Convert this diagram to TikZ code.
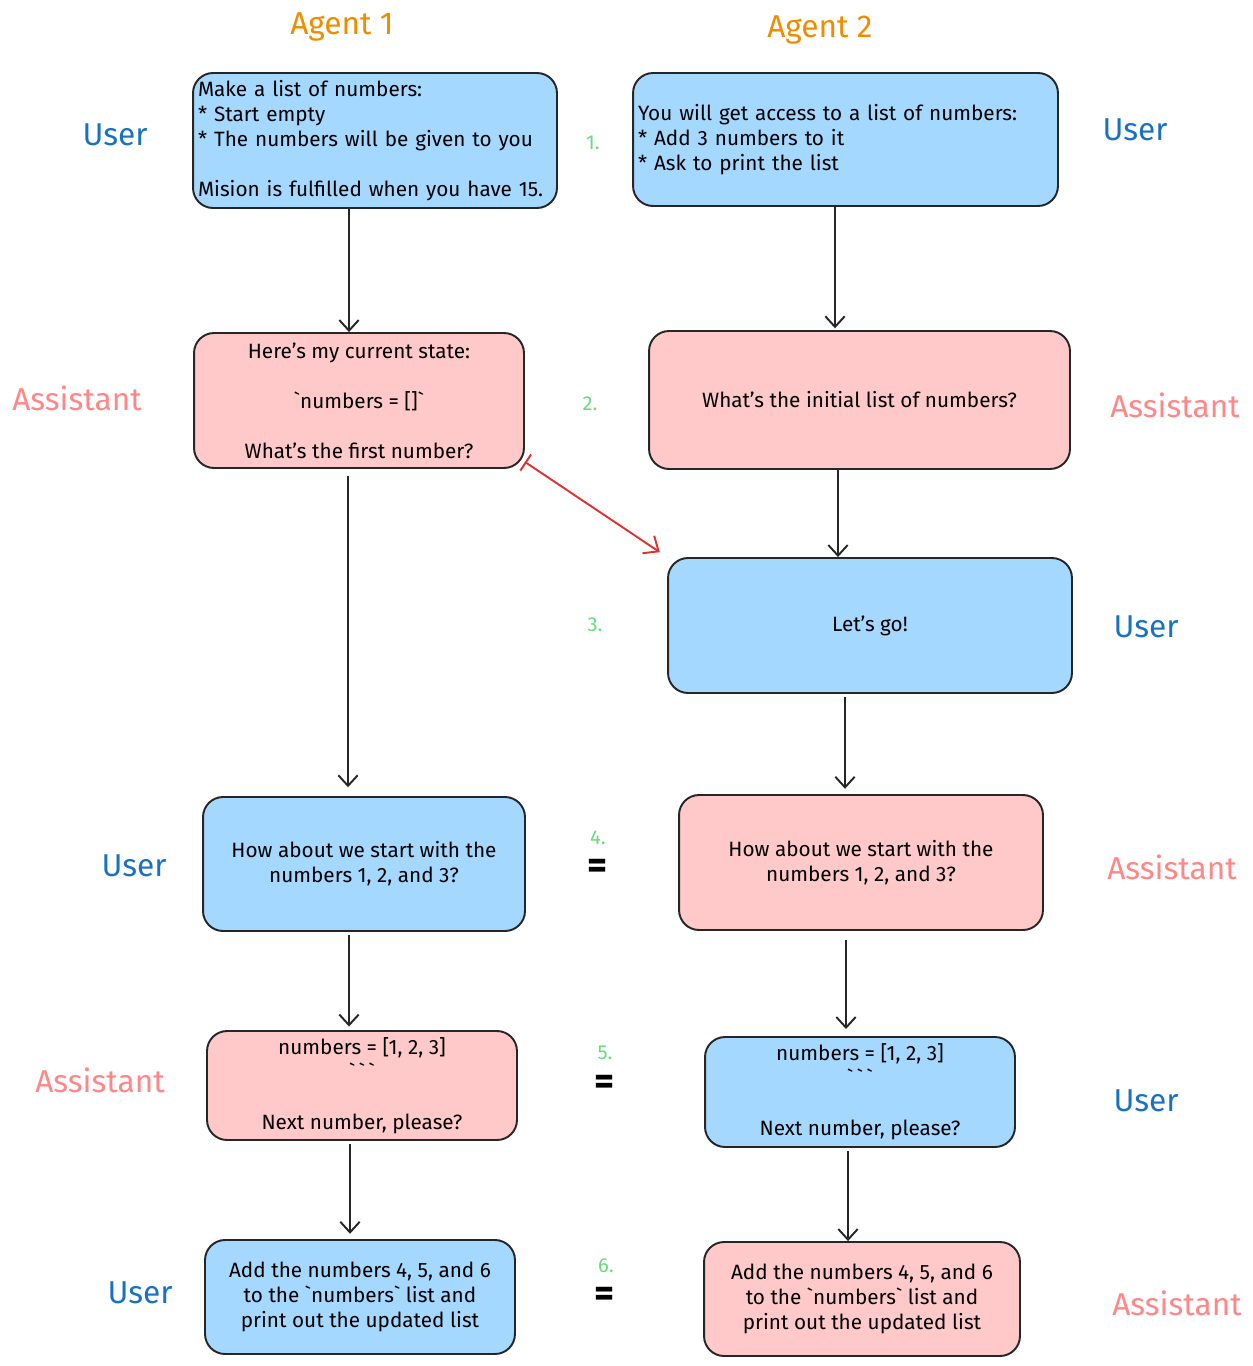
\documentclass[tikz,border=0pt]{standalone}
\usepackage{fontspec}
\setmainfont{Fira Sans}
\usetikzlibrary{arrows.meta}
\definecolor{boxblue}{HTML}{A5D8FF}
\definecolor{boxpink}{HTML}{FFC9C9}
\definecolor{userblue}{HTML}{1971C2}
\definecolor{asstpink}{HTML}{FF8787}
\definecolor{agentorange}{HTML}{F08C00}
\definecolor{stepgreen}{HTML}{69DB7C}
\definecolor{linkred}{HTML}{E03131}
\newcommand{\bt}{\textasciigrave}
\tikzset{
  msg/.style={draw=black!85, line width=1.1pt, rounded corners=0.4cm,
    font=\fontsize{11.8}{14.2}\selectfont, align=center, inner sep=0pt},
  usermsg/.style={msg, fill=boxblue},
  asstmsg/.style={msg, fill=boxpink},
  role/.style={font=\fontsize{18}{21}\selectfont},
  userlabel/.style={role, text=userblue},
  asstlabel/.style={role, text=asstpink},
  agentlabel/.style={role, text=agentorange},
  stepno/.style={font=\fontsize{11.5}{12}\selectfont, text=stepgreen, inner sep=0pt},
  eqsign/.style={font=\fontsize{22}{22}\bfseries\selectfont, inner sep=0pt},
  flow/.style={draw=black!85, line width=1.1pt, -{Straight Barb[length=6pt,width=11pt]}},
  cross/.style={draw=linkred, line width=1.1pt, {Bar[width=11pt]}-{Straight Barb[length=7pt,width=12pt]}}
}
\begin{document}
\begin{tikzpicture}[x=0.02cm, y=-0.02cm]
\useasboundingbox (0,0) rectangle (1253,1366);
% Headers
\node[agentlabel] (agent1) at (342,27) {Agent 1};
\node[agentlabel] (agent2) at (820,30) {Agent 2};
% Agent 1 column
\node[usermsg, minimum width=7.28cm, minimum height=2.7cm, text width=7.08cm, align=left] (a1) at (375,140.5)
  {Make a list of numbers:\\{*} Start empty\\{*} The numbers will be given to you\\[14.2pt]Mision is fulfilled when you have 15.};
\node[asstmsg, minimum width=6.6cm, minimum height=2.7cm] (a2) at (359,400.5)
  {Here's my current state:\\[14.2pt]\bt numbers = []\bt\\[14.2pt]What's the first number?};
\node[usermsg, minimum width=6.44cm, minimum height=2.68cm] (a4) at (364,864)
  {How about we start with the\\numbers 1, 2, and 3?};
\node[asstmsg, minimum width=6.2cm, minimum height=2.18cm] (a5) at (362,1085.5)
  {numbers = [1, 2, 3]\\\bt\,\bt\,\bt\\[14.2pt]Next number, please?};
\node[usermsg, minimum width=6.2cm, minimum height=2.28cm] (a6) at (360,1297)
  {Add the numbers 4, 5, and 6\\to the \bt numbers\bt{} list and\\print out the updated list};
% Agent 2 column
\node[usermsg, minimum width=8.5cm, minimum height=2.66cm, text width=8.3cm, align=left] (b1) at (845.5,139.5)
  {You will get access to a list of numbers:\\{*} Add 3 numbers to it\\{*} Ask to print the list};
\node[asstmsg, minimum width=8.42cm, minimum height=2.76cm] (b2) at (859.5,400)
  {What's the initial list of numbers?};
\node[usermsg, minimum width=8.08cm, minimum height=2.7cm] (b3) at (870,625.5)
  {Let's go!};
\node[asstmsg, minimum width=7.28cm, minimum height=2.7cm] (b4) at (861,862.5)
  {How about we start with the\\numbers 1, 2, and 3?};
\node[usermsg, minimum width=6.2cm, minimum height=2.2cm] (b5) at (860,1092)
  {numbers = [1, 2, 3]\\\bt\,\bt\,\bt\\[14.2pt]Next number, please?};
\node[asstmsg, minimum width=6.32cm, minimum height=2.28cm] (b6) at (862,1299)
  {Add the numbers 4, 5, and 6\\to the \bt numbers\bt{} list and\\print out the updated list};
% Roles
\node[userlabel] (ra1) at (115,135) {User};
\node[asstlabel] (ra2) at (77,398) {Assistant};
\node[userlabel] (ra4) at (134,866) {User};
\node[asstlabel] (ra5) at (100,1080) {Assistant};
\node[userlabel] (ra6) at (140,1293) {User};
\node[userlabel] (rb1) at (1135,130) {User};
\node[asstlabel] (rb2) at (1175,405) {Assistant};
\node[userlabel] (rb3) at (1146,627) {User};
\node[asstlabel] (rb4) at (1172,867) {Assistant};
\node[userlabel] (rb5) at (1146,1101) {User};
\node[asstlabel] (rb6) at (1177,1303) {Assistant};
% Steps
\node[stepno] (s1) at (593,143) {1.};
\node[stepno] (s2) at (590,404) {2.};
\node[stepno] (s3) at (595,625) {3.};
\node[stepno] (s4) at (598,838) {4.};
\node[stepno] (s5) at (605,1053) {5.};
\node[stepno] (s6) at (606,1266) {6.};
\node[eqsign] (e4) at (598,869) {=};
\node[eqsign] (e5) at (605,1085) {=};
\node[eqsign] (e6) at (605,1297) {=};
% Arrows
\draw[flow] (a1.south -| 349,0) -- (a2.north -| 349,0);
\draw[flow, shorten <=4pt, shorten >=5pt] (a2.south -| 348,0) -- (a4.north -| 348,0);
\draw[flow, shorten <=2pt, shorten >=2pt] (a4.south -| 349,0) -- (a5.north -| 349,0);
\draw[flow, shorten <=2pt, shorten >=3pt] (a5.south -| 350,0) -- (a6.north -| 350,0);
\draw[flow, shorten >=1pt] (b1.south -| 835,0) -- (b2.north -| 835,0);
\draw[flow] (b2.south -| 838,0) -- (b3.north -| 838,0);
\draw[flow, shorten <=2pt, shorten >=3pt] (b3.south -| 845,0) -- (b4.north -| 845,0);
\draw[flow, shorten <=5pt, shorten >=4pt] (b4.south -| 846,0) -- (b5.north -| 846,0);
\draw[flow, shorten <=2pt] (b5.south -| 848,0) -- (b6.north -| 848,0);
\draw[cross, shorten >=5pt] ([yshift=4pt]a2.south east) -- (b3.north west);
\end{tikzpicture}
\end{document}
